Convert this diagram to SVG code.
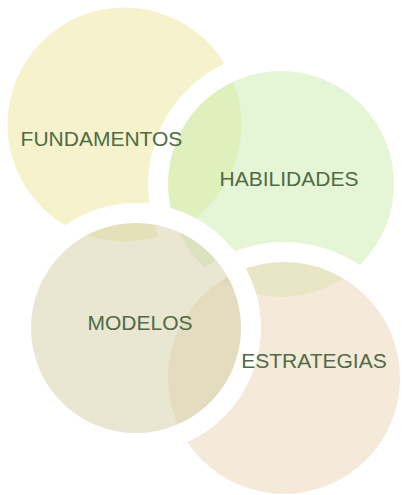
<svg xmlns="http://www.w3.org/2000/svg" width="403" height="495" viewBox="0 0 403 495">
<style>
.c{stroke:#FFFFFF;stroke-width:20;fill-opacity:0.5}
.t{font-family:"Liberation Sans",Arial,sans-serif;font-size:21px;fill:#4E6B45;text-anchor:middle}
</style>
<rect width="403" height="495" fill="#FFFFFF"/>
<g id="fundamentos"><circle class="c" cx="124.5" cy="124.5" r="127" fill="#EBE599"/></g>
<g id="habilidades"><circle class="c" cx="281" cy="184" r="123" fill="#C9EDAD"/></g>
<g id="estrategias"><circle class="c" cx="284" cy="378" r="126" fill="#EBD5B3"/></g>
<g id="modelos"><circle class="c" cx="136" cy="328" r="115" fill="#D3CDA3"/></g>
<g id="connectors"></g>
<g id="labels">
<text class="t" x="101.5" y="146">FUNDAMENTOS</text>
<text class="t" x="289" y="185.7">HABILIDADES</text>
<text class="t" x="140" y="330">MODELOS</text>
<text class="t" x="314" y="367.7">ESTRATEGIAS</text>
</g>
</svg>
